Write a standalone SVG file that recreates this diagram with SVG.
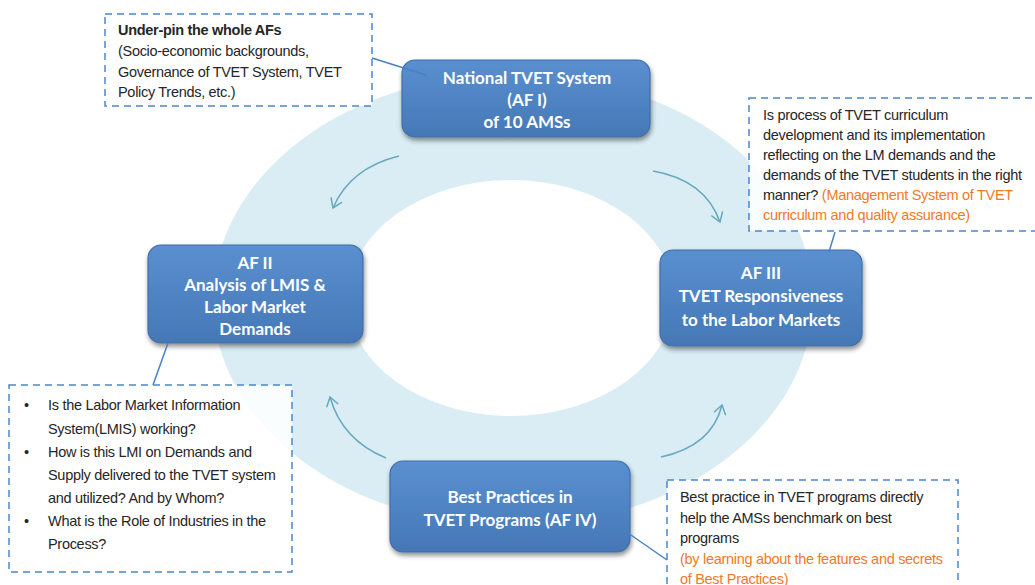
<svg xmlns="http://www.w3.org/2000/svg" width="1035" height="585" viewBox="0 0 1035 585">
  <defs>
    <linearGradient id="boxFill" x1="0" y1="0" x2="0" y2="1">
      <stop offset="0" stop-color="#5a8fd0"/>
      <stop offset="0.5" stop-color="#4f84c4"/>
      <stop offset="1" stop-color="#4677b5"/>
    </linearGradient>
    <filter id="shadow" x="-10%" y="-10%" width="125%" height="135%">
      <feGaussianBlur in="SourceAlpha" stdDeviation="2.5"/>
      <feOffset dx="1" dy="3" result="b"/>
      <feComponentTransfer><feFuncA type="linear" slope="0.45"/></feComponentTransfer>
      <feMerge><feMergeNode/><feMergeNode in="SourceGraphic"/></feMerge>
    </filter>
    <marker id="chev" markerWidth="12" markerHeight="14" refX="10" refY="7" orient="auto" markerUnits="userSpaceOnUse">
      <path d="M1,1 L10,7 L1,13" fill="none" stroke="#67a9be" stroke-width="1.5"/>
    </marker>
    <style>
      .node rect { fill: url(#boxFill); stroke: #3f6fa8; stroke-width: 1.2; filter: url(#shadow); }
      .node text { font-family: Lato, "Open Sans", sans-serif; font-weight: bold; font-size: 17px; fill: #ffffff; text-anchor: middle; }
      .note rect { fill: #ffffff; fill-opacity: 0.85; stroke: #4a86d0; stroke-width: 1.5; stroke-dasharray: 7 5; }
      .note text { font-family: "Liberation Sans", Arial, sans-serif; font-size: 14.5px; fill: #262626; letter-spacing: -0.3px; }
      .note .hi { fill: #f07a28; }
      .note .b { font-weight: bold; }
      .link { stroke: #4a7fc4; stroke-width: 1.5; fill: none; }
      .flow { stroke: #67a9be; stroke-width: 1.5; fill: none; marker-end: url(#chev); }
    </style>
  </defs>

  <rect width="1035" height="585" fill="#ffffff"/>

  <!-- cycle ring -->
  <g id="ring">
    <ellipse cx="513" cy="300" rx="300" ry="226" fill="#daedf4"/>
    <ellipse cx="511" cy="298" rx="163" ry="118" fill="#ffffff"/>
  </g>

  <!-- flow arrows around the ring -->
  <g id="cycle-arrows">
    <path class="flow" d="M399,156 Q350,168 333,208"/>
    <path class="flow" d="M653,171 Q705,180 720,222"/>
    <path class="flow" d="M386,458 Q342,440 330,397"/>
    <path class="flow" d="M661,457 Q712,446 722,405"/>
  </g>

  <!-- callout notes -->
  <g id="note-underpin" class="note">
    <rect x="105" y="14" width="267" height="92"/>
    <text x="118" y="35" class="b">Under-pin the whole AFs</text>
    <text x="118" y="56">(Socio-economic backgrounds,</text>
    <text x="118" y="76.5">Governance of TVET System, TVET</text>
    <text x="118" y="97">Policy Trends, etc.)</text>
  </g>

  <g id="note-curriculum" class="note">
    <rect x="749" y="98" width="300" height="133"/>
    <text x="763" y="120">Is process of TVET curriculum</text>
    <text x="763" y="140">development and its implementation</text>
    <text x="763" y="160">reflecting on the LM demands and the</text>
    <text x="763" y="180">demands of the TVET students in the right</text>
    <text x="763" y="200">manner? <tspan class="hi">(Management System of TVET</tspan></text>
    <text x="763" y="220" class="hi">curriculum and quality assurance)</text>
  </g>

  <g id="note-lmis" class="note">
    <rect x="9" y="385" width="283" height="187"/>
    <text x="24" y="410">•</text>
    <text x="48" y="410">Is the Labor Market Information</text>
    <text x="48" y="434">System(LMIS)  working?</text>
    <text x="24" y="457">•</text>
    <text x="48" y="457">How is this LMI on Demands and</text>
    <text x="48" y="480">Supply delivered to the TVET system</text>
    <text x="48" y="503">and utilized? And by Whom?</text>
    <text x="24" y="526">•</text>
    <text x="48" y="526">What is the Role of Industries in the</text>
    <text x="48" y="549">Process?</text>
  </g>

  <g id="note-bestpractice" class="note">
    <rect x="667" y="480" width="291" height="115"/>
    <text x="680" y="502">Best practice in TVET programs  directly</text>
    <text x="680" y="523">help the AMSs benchmark on best</text>
    <text x="680" y="543">programs</text>
    <text x="680" y="564" class="hi">(by learning about the features  and secrets</text>
    <text x="680" y="584" class="hi">of Best Practices)</text>
  </g>

  <!-- framework nodes -->
  <g id="af1" class="node">
    <rect x="402" y="60" width="248" height="77" rx="13"/>
    <text x="527" y="84">National TVET System</text>
    <text x="527" y="106">(AF I)</text>
    <text x="527" y="128">of 10 AMSs</text>
  </g>

  <g id="af2" class="node">
    <rect x="148" y="245" width="215" height="98" rx="13"/>
    <text x="255" y="269">AF II</text>
    <text x="255" y="291">Analysis of LMIS &amp;</text>
    <text x="255" y="313">Labor Market</text>
    <text x="255" y="335">Demands</text>
  </g>

  <g id="af3" class="node">
    <rect x="660" y="250" width="202" height="96" rx="13"/>
    <text x="761" y="279">AF III</text>
    <text x="761" y="302">TVET Responsiveness</text>
    <text x="761" y="326">to the Labor Markets</text>
  </g>

  <g id="af4" class="node">
    <rect x="390" y="461" width="240" height="91" rx="13"/>
    <text x="510" y="503">Best Practices in</text>
    <text x="510" y="526">TVET Programs (AF IV)</text>
  </g>

  <!-- callout leader lines -->
  <g id="connectors">
    <path class="link" d="M372,58 L426,75"/>
    <path class="link" d="M835,232 L829,252"/>
    <path class="link" d="M168,343 L153,385"/>
    <path class="link" d="M628,533 L667,560"/>
  </g>
</svg>
